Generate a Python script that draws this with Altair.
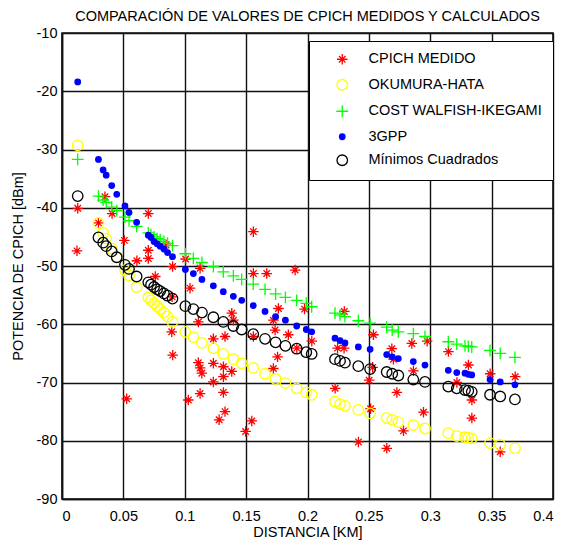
import altair as alt
import pandas as pd

FONT = "Liberation Sans, Arial, Helvetica, sans-serif"

series_names = ["CPICH MEDIDO", "OKUMURA-HATA", "COST WALFISH-IKEGAMI", "3GPP", "Mínimos Cuadrados"]
series_colors = ["#ff0000", "#ffff00", "#00ff00", "#0000ff", "#000000"]
series_fills = ["transparent", "transparent", "transparent", "#0000ff", "transparent"]
series_shapes = [
    "M0,-1L0,1M-1,0L1,0M-0.62,-0.62L0.62,0.62M-0.62,0.62L0.62,-0.62",
    "circle",
    "M-1,0L1,0M0,-1L0,1",
    "circle",
    "circle",
]
series_sizes = [110, 110, 140, 30, 110]

x_ticks = [0, 0.05, 0.1, 0.15, 0.2, 0.25, 0.3, 0.35, 0.4]
y_ticks = [-90, -80, -70, -60, -50, -40, -30, -20, -10]

# measured CPICH (distance km, dBm)
meas_d = [0.0122, 0.0128, 0.0297, 0.0350, 0.0408, 0.0508, 0.0527, 0.0610, 0.0703, 0.0703,
          0.0703, 0.0760, 0.0848, 0.0897, 0.0894, 0.0901, 0.0902, 0.1007, 0.1029, 0.1043,
          0.1111, 0.1111, 0.1125, 0.1125, 0.1125, 0.1139, 0.1233, 0.1233, 0.1233, 0.1280,
          0.1315, 0.1315, 0.1315, 0.1328, 0.1328, 0.1383, 0.1383, 0.1396, 0.1496, 0.1546,
          0.1559, 0.1559, 0.1559, 0.1668, 0.1722, 0.1722, 0.1736, 0.1756, 0.1763, 0.1844,
          0.1899, 0.1913, 0.1976, 0.2035, 0.2225, 0.2245, 0.2298, 0.2300, 0.2415, 0.2502,
          0.2514, 0.2531, 0.2537, 0.2646, 0.2687, 0.2700, 0.2728, 0.2782, 0.2850, 0.2863,
          0.2945, 0.2975, 0.3148, 0.3217, 0.3311, 0.3339, 0.3339, 0.3488, 0.3570, 0.3692]
meas_v = [-47.4, -40.1, -42.6, -38.1, -41.0, -45.6, -72.8, -49.1, -41.0, -47.3,
          -48.7, -51.8, -46.4, -55.3, -61.3, -50.1, -65.3, -48.8, -73.0, -53.8,
          -59.6, -66.6, -50.4, -67.5, -71.9, -68.4, -62.5, -66.7, -69.9, -76.4,
          -67.3, -69.0, -71.7, -62.1, -75.0, -58.1, -68.1, -59.3, -78.4, -76.6,
          -44.1, -51.3, -62.1, -51.3, -59.3, -67.6, -61.0, -65.6, -57.3, -61.8,
          -50.7, -64.1, -57.4, -62.9, -71.0, -64.1, -64.1, -57.8, -80.2, -69.6,
          -74.5, -67.4, -61.8, -81.3, -64.2, -66.0, -71.7, -78.3, -63.3, -68.0,
          -75.1, -62.9, -64.7, -70.0, -67.0, -73.0, -76.1, -68.5, -81.9, -69.0]

# model distances and values
model_d = [0.0128, 0.0297, 0.0335, 0.0360, 0.0405, 0.0446, 0.0513, 0.0546, 0.0608, 0.0703,
           0.0725, 0.0750, 0.0775, 0.0800, 0.0830, 0.0860, 0.0900, 0.1005, 0.1070, 0.1140,
           0.1233, 0.1314, 0.1396, 0.1464, 0.1558, 0.1654, 0.1740, 0.1820, 0.1912, 0.1990,
           0.2034, 0.2224, 0.2265, 0.2305, 0.2414, 0.2510, 0.2645, 0.2690, 0.2740, 0.2862,
           0.2957, 0.3147, 0.3216, 0.3283, 0.3310, 0.3338, 0.3487, 0.3570, 0.3690]
okumura = [-29.3, -42.6, -44.3, -45.3, -47.0, -48.5, -50.7, -51.6, -53.6, -55.4,
           -55.9, -56.4, -56.9, -57.4, -58.0, -58.7, -59.6, -61.3, -62.2, -63.2,
           -64.1, -65.1, -66.0, -66.7, -67.5, -68.5, -69.4, -70.1, -71.0, -71.7,
           -72.1, -73.3, -73.7, -74.0, -74.7, -75.3, -76.1, -76.4, -76.8, -77.3,
           -77.9, -78.7, -79.2, -79.4, -79.5, -79.6, -80.4, -80.7, -81.3]
cost = [-31.7, -38.0, -38.7, -39.1, -39.9, -40.5, -41.6, -42.2, -43.2, -44.3,
        -44.6, -45.0, -45.3, -45.5, -45.8, -46.1, -46.5, -47.9, -48.7, -49.4,
        -50.1, -51.0, -51.7, -52.3, -53.1, -54.0, -54.8, -55.4, -55.9, -56.4,
        -57.0, -58.1, -58.4, -58.7, -59.4, -59.8, -60.5, -61.0, -61.3, -61.6,
        -62.1, -63.0, -63.4, -63.7, -63.8, -63.9, -64.5, -65.0, -65.7]
gpp = [-18.4, -31.7, -33.5, -34.4, -36.2, -37.7, -39.7, -40.8, -42.5, -44.7,
       -45.1, -45.8, -46.2, -46.6, -47.1, -47.7, -48.4, -50.6, -51.3, -52.3,
       -53.4, -54.4, -55.2, -55.9, -56.8, -57.8, -58.7, -59.3, -60.3, -60.9,
       -61.3, -62.4, -62.8, -63.2, -63.9, -64.3, -65.2, -65.6, -65.9, -66.4,
       -67.0, -67.9, -68.3, -68.4, -68.6, -68.7, -69.5, -69.9, -70.4]
minimos = [-38.0, -45.1, -46.0, -46.6, -47.5, -48.5, -49.8, -50.5, -51.8, -52.8,
           -53.2, -53.6, -54.0, -54.3, -54.7, -55.1, -55.6, -56.9, -57.4, -58.0,
           -58.8, -59.6, -60.3, -60.9, -61.7, -62.5, -63.1, -63.7, -64.2, -64.8,
           -65.1, -66.0, -66.3, -66.6, -67.2, -67.7, -68.2, -68.5, -68.8, -69.5,
           -69.9, -70.7, -71.0, -71.3, -71.4, -71.6, -72.1, -72.4, -72.9]

rows = []
for d, v in zip(meas_d, meas_v):
    rows.append({"d": d, "v": v, "series": series_names[0]})
for name, vals in zip(series_names[1:], [okumura, cost, gpp, minimos]):
    for d, v in zip(model_d, vals):
        rows.append({"d": d, "v": v, "series": name})
df = pd.DataFrame(rows)

leg = alt.Legend(
    title=None, orient="none", legendX=247, legendY=8,
    padding=11, strokeColor="black", fillColor="white", cornerRadius=0,
    labelFont=FONT, labelFontSize=14.5, labelColor="black", labelLimit=400,
    rowPadding=8.5, symbolOffset=15, labelOffset=19, symbolStrokeWidth=1.3,
)

chart = alt.Chart(df).mark_point(filled=False, strokeWidth=1.3, opacity=1).encode(
    x=alt.X("d:Q", scale=alt.Scale(domain=[0, 0.4], nice=False, zero=False),
            axis=alt.Axis(values=x_ticks, title="DISTANCIA [KM]", labelExpr="'' + datum.value",
                          titleX=245.5, titleY=33, titleBaseline="middle", labelPadding=10)),
    y=alt.Y("v:Q", scale=alt.Scale(domain=[-90, -10], nice=False, zero=False),
            axis=alt.Axis(values=y_ticks, title="POTENCIA DE CPICH [dBm]", labelExpr="'' + datum.value",
                          titleX=-44, titleY=233, titleAngle=-90, titleAlign="center",
                          titleBaseline="middle", labelPadding=5)),
    stroke=alt.Stroke("series:N", scale=alt.Scale(domain=series_names, range=series_colors), legend=leg),
    fill=alt.Fill("series:N", scale=alt.Scale(domain=series_names, range=series_fills), legend=leg),
    shape=alt.Shape("series:N", scale=alt.Scale(domain=series_names, range=series_shapes), legend=leg),
    size=alt.Size("series:N", scale=alt.Scale(type="ordinal", domain=series_names, range=series_sizes), legend=leg),
).properties(
    width=491, height=466,
    title=alt.TitleParams("COMPARACIÓN DE VALORES DE CPICH MEDIDOS Y CALCULADOS",
                          font=FONT, fontSize=14.5, fontWeight="normal", color="black",
                          anchor="middle", offset=1),
    autosize=alt.AutoSizeParams(type="none"),
    padding={"left": 54, "top": 25, "right": 6, "bottom": 45},
).configure_axis(
    labelFont=FONT, labelFontSize=14.5, labelColor="black",
    titleFont=FONT, titleFontSize=14.5, titleFontWeight="normal", titleColor="black",
    grid=True, gridColor="#111111", gridWidth=1.4, gridOpacity=1,
    domainColor="#111111", domainWidth=1.6, tickSize=0,
).configure_view(
    stroke="#111111", strokeWidth=1.6,
)

chart.save("out.html", embed_options={"renderer": "svg", "actions": False})
